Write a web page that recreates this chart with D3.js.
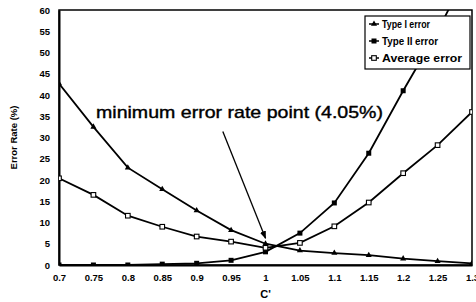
<!DOCTYPE html>
<html>
<head>
<meta charset="utf-8">
<script src="https://cdn.jsdelivr.net/npm/d3@7"></script>
<style>
  body { margin: 0; background: #fff; }
  svg text { font-family: "Liberation Sans", Arial, sans-serif; fill: #000; }
</style>
</head>
<body>
<svg></svg>
<script>
// chart values
const cValues = [0.7, 0.75, 0.8, 0.85, 0.9, 0.95, 1, 1.05, 1.1, 1.15, 1.2, 1.25, 1.3];
const typeOne = [42.7, 32.5, 22.9, 17.8, 12.8, 8.2, 5.0, 3.4, 2.8, 2.3, 1.5, 0.9, 0.4];
const typeTwo = [0, 0, 0, 0.2, 0.4, 1.1, 3.1, 7.5, 14.6, 26.3, 41, 55, 71];
const average = [20.4, 16.5, 11.6, 9.0, 6.7, 5.5, 4.05, 5.2, 9.1, 14.7, 21.6, 28.2, 36];
const yTicks = [0, 5, 10, 15, 20, 25, 30, 35, 40, 45, 50, 55, 60];
const seriesNames = ["Type I error", "Type II error", "Average error"];
const legendWidths = [48, 56, 80];
const noteText = "minimum error rate point (4.05%)";

let width = 476, height = 302;
let margin = { top: 10, bottom: 37, left: 59, right: 4 };

let svg = d3.select('svg')
    .attr('width', width)
    .attr('height', height);

let xScale = d3.scaleLinear()
    .domain([0.7, 1.3])
    .range([margin.left, width - margin.right]);

let yScale = d3.scaleLinear()
    .domain([0, 60])
    .range([height - margin.bottom, margin.top]);

svg.append('clipPath').attr('id', 'plot')
    .append('rect')
    .attr('x', margin.left).attr('y', margin.top)
    .attr('width', width - margin.right - margin.left)
    .attr('height', height - margin.bottom - margin.top);

// frame (top and right)
svg.append('rect')
    .attr('x', margin.left).attr('y', margin.top)
    .attr('width', width - margin.right - margin.left)
    .attr('height', height - margin.bottom - margin.top)
    .attr('fill', 'none')
    .attr('stroke', '#000')
    .attr('stroke-width', 1.5);

let yAxis = svg.append('g')
    .attr('transform', `translate(${margin.left}, 0)`)
    .call(d3.axisLeft(yScale).tickValues(yTicks).tickSize(0).tickPadding(9));

let xAxis = svg.append('g')
    .attr('transform', `translate(0, ${height - margin.bottom})`)
    .call(d3.axisBottom(xScale).tickValues(cValues).tickSize(0).tickPadding(9)
        .tickFormat(d3.format('~g')));

[yAxis, xAxis].forEach(a => {
    a.select('.domain').attr('stroke-width', 2);
    a.selectAll('text')
        .style('font-size', '9.5px')
        .style('font-weight', 'bold')
        .attr('fill', '#000');
});

// axis titles
svg.append('text')
    .attr('transform', `translate(17, ${(margin.top + height - margin.bottom) / 2}) rotate(-90)`)
    .attr('text-anchor', 'middle')
    .style('font-size', '9.5px')
    .style('font-weight', 'bold')
    .text('Error Rate (%)');

svg.append('text')
    .attr('x', xScale(1))
    .attr('y', 298)
    .attr('text-anchor', 'middle')
    .style('font-size', '11px')
    .style('font-weight', 'bold')
    .text("C'");

// lines
let line = d3.line()
    .x((d, i) => xScale(cValues[i]))
    .y(d => yScale(d));

let series = [typeOne, typeTwo, average];
let plot = svg.append('g').attr('clip-path', 'url(#plot)');

series.forEach(s => {
    plot.append('path')
        .datum(s)
        .attr('d', line)
        .attr('fill', 'none')
        .attr('stroke', '#000')
        .attr('stroke-width', 1.8);
});

// markers
function drawMarker(g, k, x, y) {
    if (k === 0) {
        g.append('path')
            .attr('d', d3.symbol(d3.symbolTriangle, 16)())
            .attr('transform', `translate(${x},${y})`)
            .attr('fill', '#000');
    } else if (k === 1) {
        g.append('rect')
            .attr('x', x - 2.5).attr('y', y - 2.5)
            .attr('width', 5).attr('height', 5)
            .attr('fill', '#000');
    } else {
        g.append('rect')
            .attr('x', x - 2.3).attr('y', y - 2.3)
            .attr('width', 4.6).attr('height', 4.6)
            .attr('fill', '#fff')
            .attr('stroke', '#000')
            .attr('stroke-width', 1.1);
    }
}

series.forEach((s, k) => {
    s.forEach((v, i) => {
        if (v <= 60) drawMarker(plot, k, xScale(cValues[i]), yScale(v));
    });
});

// annotation
svg.append('defs').append('marker')
    .attr('id', 'arrow')
    .attr('viewBox', '0 0 10 10')
    .attr('refX', 9).attr('refY', 5)
    .attr('markerWidth', 6).attr('markerHeight', 6)
    .attr('orient', 'auto')
    .append('path')
    .attr('d', 'M0,1 L10,5 L0,9 Z')
    .attr('fill', '#000');

svg.append('line')
    .attr('x1', xScale(0.938)).attr('y1', yScale(31.4))
    .attr('x2', xScale(1)).attr('y2', yScale(6.3))
    .attr('stroke', '#000')
    .attr('stroke-width', 1.3)
    .attr('marker-end', 'url(#arrow)');

svg.append('text')
    .attr('x', 96)
    .attr('y', 118)
    .attr('textLength', 287)
    .attr('lengthAdjust', 'spacingAndGlyphs')
    .style('font-size', '17px')
    .style('stroke', '#000')
    .style('stroke-width', 0.4)
    .text(noteText);

// legend
let legend = svg.append('g').attr('transform', 'translate(365, 16)');
legend.append('rect')
    .attr('width', 105).attr('height', 53)
    .attr('fill', '#fff')
    .attr('stroke', '#000')
    .attr('stroke-width', 1.2);

seriesNames.forEach((name, k) => {
    let y = 8 + k * 17;
    legend.append('line')
        .attr('x1', 4).attr('x2', 14)
        .attr('y1', y).attr('y2', y)
        .attr('stroke', '#000').attr('stroke-width', 1.5);
    drawMarker(legend, k, 9, y);
    legend.append('text')
        .attr('x', 17)
        .attr('y', y + 3.5)
        .attr('textLength', legendWidths[k])
        .attr('lengthAdjust', 'spacingAndGlyphs')
        .style('font-size', '10px')
        .style('font-weight', 'bold')
        .text(name);
});
</script>
</body>
</html>
